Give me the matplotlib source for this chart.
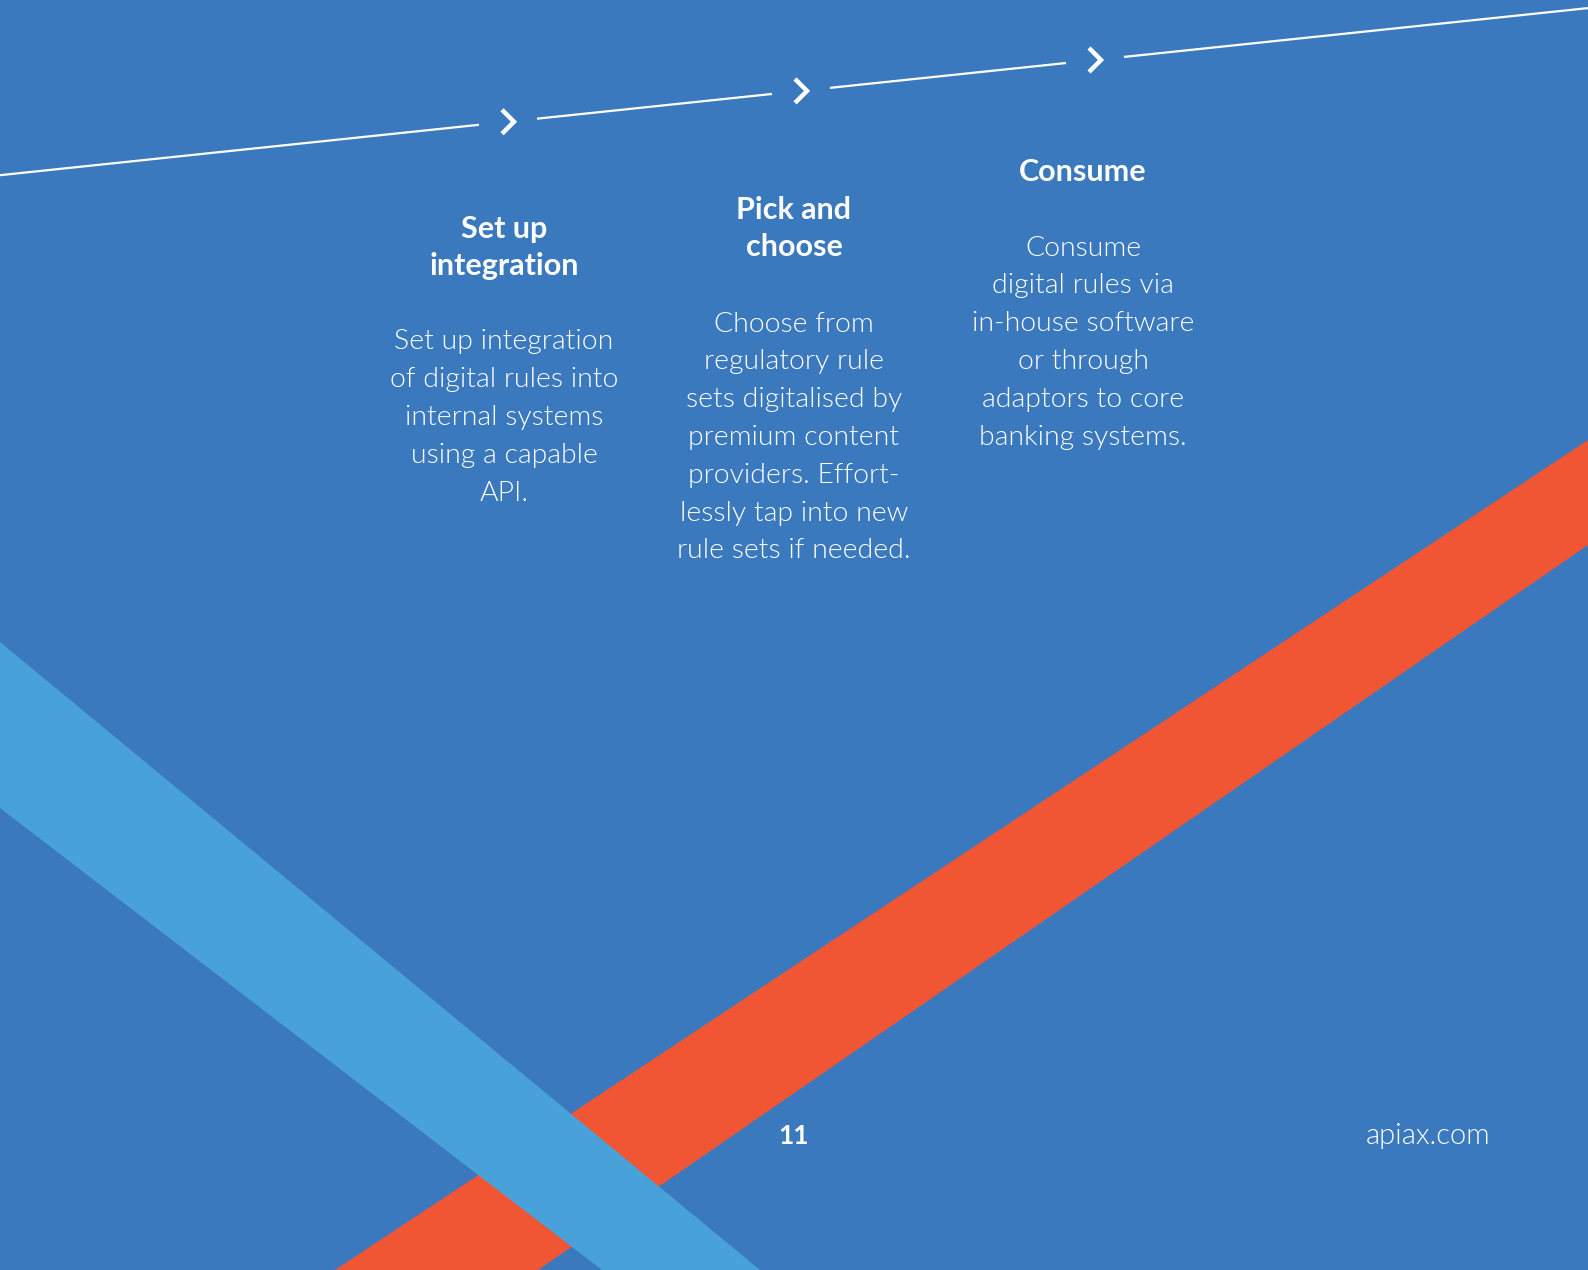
import matplotlib.pyplot as plt
from matplotlib.patches import Polygon

# page texts
headings = ["Set up\nintegration", "Pick and\nchoose", "Consume"]
bodies = [
    ["Set up integration", "of digital rules into", "internal systems",
     "using a capable", "API."],
    ["Choose from", "regulatory rule", "sets digitalised by",
     "premium content", "providers. Effort-", "lessly tap into new",
     "rule sets if needed."],
    ["Consume", "digital rules via", "in-house software", "or through",
     "adaptors to core", "banking systems."],
]
page_number = "11"
site = "apiax.com"

# layout (pixel space, 1588 x 1270, y downwards)
W, H = 1588, 1270
col_x = [504, 794, 1083]
head_y = [229, 210, 172]
body_y = [342, 324, 248]
line_step = 37.8
chevron_x = [508, 801, 1095]

BG = "#3b79be"
LIGHT = "#49a1d9"
ORANGE = "#f05633"
FONT = ["Lato", "DejaVu Sans"]

orange_band = [(335, H), (W, 440), (W, 545), (538, H)]
light_band = [(0, 642), (760, H), (602, H), (0, 808)]


def line_y(x):
    # the timeline runs straight from (0,175) to (1588,8)
    return 175.2 - (175.2 - 8.1) * x / W


fig = plt.figure(figsize=(15.88, 12.7), dpi=100)
fig.patch.set_facecolor(BG)
ax = fig.add_axes([0, 0, 1, 1])
ax.set_xlim(0, W)
ax.set_ylim(H, 0)
ax.axis('off')

ax.add_patch(Polygon(orange_band, closed=True, color=ORANGE, lw=0))
ax.add_patch(Polygon(light_band, closed=True, color=LIGHT, lw=0))

# timeline segments with chevrons between them
gap_before, gap_after = 29, 29
starts = [0] + [cx + gap_after for cx in chevron_x]
ends = [cx - gap_before for cx in chevron_x] + [W]
for x0, x1 in zip(starts, ends):
    ax.plot([x0, x1], [line_y(x0), line_y(x1)], color='white', lw=1.6,
            solid_capstyle='butt')
for cx in chevron_x:
    cy = line_y(cx)
    ax.plot([cx - 6, cx + 6, cx - 6], [cy - 12, cy, cy + 12], color='white',
            lw=3.2, solid_joinstyle='miter', solid_capstyle='butt')

for x, hy, by, head, body in zip(col_x, head_y, body_y, headings, bodies):
    for i, ln in enumerate(head.split("\n")):
        ax.text(x, hy + i * 36.5, ln, color='white', fontsize=22,
                fontweight='bold', ha='center', va='center', family=FONT)
    for i, ln in enumerate(body):
        ax.text(x, by + i * line_step, ln, color='white', fontsize=20.4,
                fontweight=300, ha='center', va='center', family=FONT)

ax.text(793, 1136, page_number, color='white', fontsize=19, fontweight='bold',
        ha='center', va='center', family=FONT)
ax.text(1428, 1136, site, color='white', fontsize=21, fontweight=300,
        ha='center', va='center', family=FONT)

fig.savefig("out.png", dpi=100, facecolor=BG)
